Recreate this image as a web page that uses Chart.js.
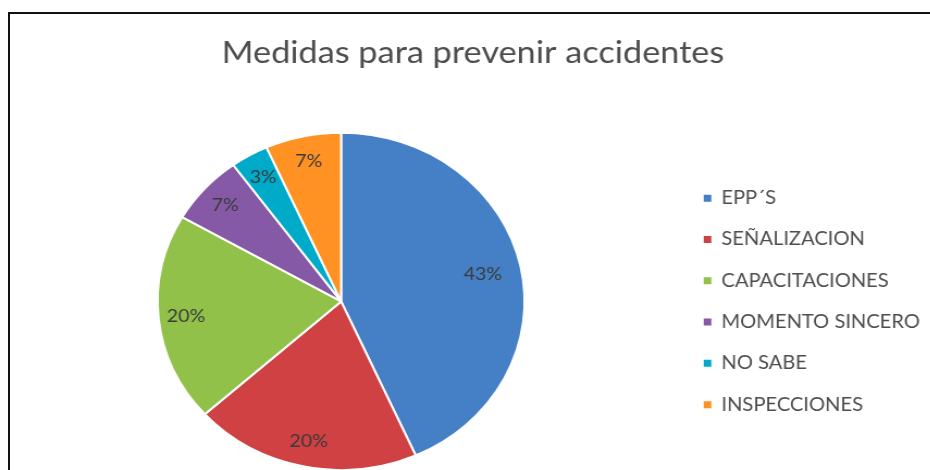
<!DOCTYPE html>
<html>
<head>
<meta charset="utf-8">
<script src="https://cdn.jsdelivr.net/npm/chart.js@4.4.1/dist/chart.umd.min.js"></script>
<style>
  html, body { margin: 0; padding: 0; background: #fff; overflow: hidden; }
  body { width: 930px; height: 470px; position: relative; }
  /* source picture is stretched horizontally, so the whole chart is too */
  #wrap { position: absolute; left: 0; top: 0; width: 855px; height: 480px;
          transform: scaleX(1.088); transform-origin: 0 0; }
  #frame { position: absolute; left: 8px; top: 12px; width: 960px; height: 500px;
           border-left: 2px solid #111; border-top: 2px solid #111; pointer-events: none; }
</style>
</head>
<body>
<div id="wrap"><canvas id="chart" width="855" height="480"></canvas></div>
<div id="frame"></div>
<script>
const categories = ["EPP´S", "SEÑALIZACION", "CAPACITACIONES", "MOMENTO SINCERO", "NO SABE", "INSPECCIONES"];
const responses = [13, 6, 6, 2, 1, 2];
const sliceColors = ["#4580C6", "#D04143", "#92C14A", "#8559A6", "#00ABCA", "#FF9222"];

Chart.defaults.font.family = "Lato, 'Open Sans', sans-serif";

// percentage labels inside each slice
const sliceLabels = {
  id: "sliceLabels",
  afterLayout(chart) {
    // title sits centred on the frame, not on chart + legend
    const t = chart.titleBlock;
    const off = 434.7 - (t.left + t.right) / 2;
    t.left += off;
    t.right += off;
  },
  afterDatasetsDraw(chart) {
    const ctx = chart.ctx;
    const meta = chart.getDatasetMeta(0);
    const total = responses.reduce((a, b) => a + b, 0);
    ctx.save();
    ctx.font = "18px Lato, sans-serif";
    ctx.fillStyle = "#3a3a3a";
    ctx.textAlign = "center";
    ctx.textBaseline = "middle";
    meta.data.forEach((arc, i) => {
      const p = arc.getProps(["x", "y", "startAngle", "endAngle", "outerRadius"], true);
      const mid = (p.startAngle + p.endAngle) / 2;
      const share = responses[i] / total;
      const r = p.outerRadius * (share > 0.3 ? 0.79 : 0.85);
      ctx.fillText(Math.round(share * 100) + "%", p.x + Math.cos(mid) * r, p.y + Math.sin(mid) * r);
    });
    ctx.restore();
  }
};

const chart = new Chart(document.getElementById("chart"), {
  type: "pie",
  data: {
    labels: categories,
    datasets: [{
      data: responses,
      backgroundColor: sliceColors,
      borderColor: "#ffffff",
      borderWidth: 2
    }]
  },
  options: {
    responsive: false,
    animation: false,
    layout: { padding: { left: 3, right: 30, top: 0, bottom: 9 } },
    plugins: {
      title: {
        display: true,
        text: "Medidas para prevenir accidentes",
        color: "#4d4d4d",
        font: { size: 31.5, weight: "normal" },
        padding: { top: 34, bottom: 60 }
      },
      legend: {
        position: "right",
        fullSize: false,
        labels: {
          color: "#4d4d4d",
          font: { size: 18.5 },
          boxWidth: 7,
          boxHeight: 7,
          padding: 22.8,
          generateLabels: (c) =>
            Chart.overrides.pie.plugins.legend.labels.generateLabels(c).map(l => ({ ...l, lineWidth: 0 }))
        }
      },
      tooltip: { enabled: false }
    }
  },
  plugins: [sliceLabels]
});

// keep the legend (and so the pie) where the source has it
const shift = chart.legend.left - 624;
if (Math.abs(shift) > 0.5) {
  chart.options.layout.padding.right += shift;
  chart.update();
}
</script>
</body>
</html>
